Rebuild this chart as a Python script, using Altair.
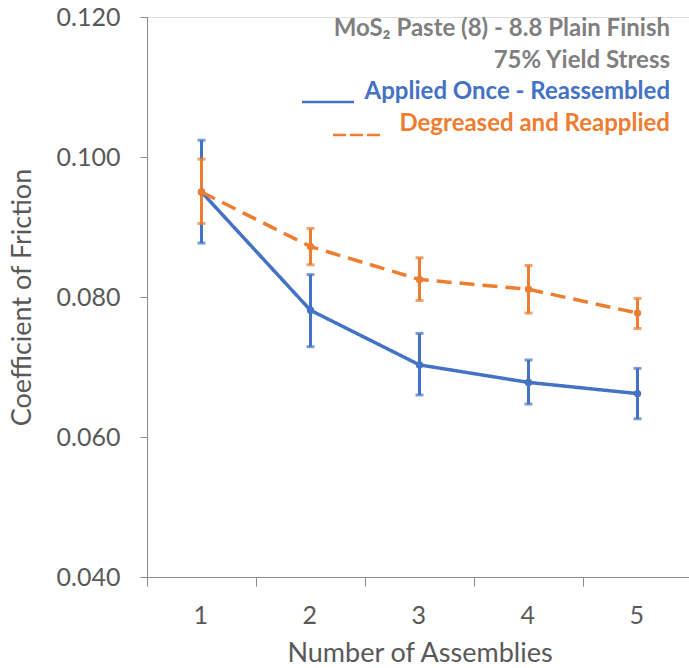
import altair as alt
import pandas as pd

assemblies = [1, 2, 3, 4, 5]
series_names = ["Applied Once - Reassembled", "Degreased and Reapplied"]
blue_mean = [0.0950, 0.0781, 0.0703, 0.0678, 0.0662]
blue_lo = [0.0877, 0.0729, 0.0660, 0.0647, 0.0626]
blue_hi = [0.1024, 0.0832, 0.0748, 0.0710, 0.0698]
orange_mean = [0.0950, 0.0872, 0.0825, 0.0811, 0.0777]
orange_lo = [0.0905, 0.0846, 0.0795, 0.0777, 0.0755]
orange_hi = [0.0997, 0.0898, 0.0856, 0.0845, 0.0798]

y_ticks = [0.04, 0.06, 0.08, 0.10, 0.12]
title_lines = ["MoS\u2082 Paste (8) - 8.8 Plain Finish", "75% Yield Stress"]

BLUE = "#4472C4"
ORANGE = "#ED7D31"
GRAY = "#7f7f7f"
AXIS_TXT = "#595959"
FONT = "Lato"

rows = []
for s, m, lo, hi in [(series_names[0], blue_mean, blue_lo, blue_hi),
                     (series_names[1], orange_mean, orange_lo, orange_hi)]:
    for a, mv, l, h in zip(assemblies, m, lo, hi):
        rows.append({"series": s, "n": a, "cof": mv, "lo": l, "hi": h})
df = pd.DataFrame(rows)

x_enc = alt.X("n:O", title="Number of Assemblies",
              scale=alt.Scale(paddingInner=0, paddingOuter=0),
              axis=alt.Axis(labelAngle=0, tickBand="extent", tickSize=9,
                            labelPadding=29, titlePadding=12, grid=False,
                            labelOffset=6,
                            labelFontSize=25, titleFontSize=27,
                            labelColor=AXIS_TXT, titleColor=AXIS_TXT,
                            domainColor="#8c8c8c", tickColor="#8c8c8c",
                            labelFont=FONT, titleFont=FONT, titleFontWeight="normal"))
y_scale = alt.Scale(domain=[0.04, 0.12], nice=False, zero=False)
y_enc = alt.Y("cof:Q", title="Coefficient of Friction", scale=y_scale,
              axis=alt.Axis(values=y_ticks, format=".3f", tickSize=7, labelPadding=20,
                            titlePadding=20, grid=False,
                            labelFontSize=25, titleFontSize=27,
                            labelColor=AXIS_TXT, titleColor=AXIS_TXT,
                            domainColor="#8c8c8c", tickColor="#8c8c8c",
                            labelFont=FONT, titleFont=FONT, titleFontWeight="normal"))
color_enc = alt.Color("series:N", scale=alt.Scale(domain=series_names, range=[BLUE, ORANGE]),
                      legend=None)
dash_enc = alt.StrokeDash("series:N", scale=alt.Scale(domain=series_names, range=[[1, 0], [15, 8]]),
                          legend=None)

base = alt.Chart(df)
lines = base.mark_line(strokeWidth=3.5).encode(x=x_enc, y=y_enc, color=color_enc, strokeDash=dash_enc)
points = base.mark_point(filled=True, size=55, opacity=1).encode(x="n:O", y="cof:Q", color=color_enc)
rules = base.mark_rule(strokeWidth=3).encode(x="n:O", y="lo:Q", y2="hi:Q", color=color_enc)
caps_hi = base.mark_tick(thickness=3, size=8, orient="horizontal").encode(x="n:O", y="hi:Q", color=color_enc)
caps_lo = base.mark_tick(thickness=3, size=8, orient="horizontal").encode(x="n:O", y="lo:Q", color=color_enc)

tdf = pd.DataFrame({"t": title_lines + series_names,
                    "c": [GRAY, GRAY, BLUE, ORANGE],
                    "yy": [19, 51, 82, 114]})
texts = alt.Chart(tdf).mark_text(align="right", baseline="alphabetic", fontSize=24,
                                 fontWeight="bold", font=FONT).encode(
    x=alt.value(523), y=alt.Y("yy:Q", scale=None),
    text="t:N", color=alt.Color("c:N", scale=None))

leg_blue = alt.Chart(pd.DataFrame({"series": [series_names[0]]})).mark_rule(
    strokeWidth=2.5, color=BLUE).encode(x=alt.value(155), x2=alt.value(207), y=alt.value(85))
leg_orange = alt.Chart(pd.DataFrame({"series": [series_names[1]]})).mark_rule(
    strokeWidth=2.5, color=ORANGE, strokeDash=[13, 4]).encode(
    x=alt.value(186), x2=alt.value(233), y=alt.value(118))

chart = alt.layer(rules, caps_hi, caps_lo, lines, points, leg_blue, leg_orange, texts).properties(
    width=545, height=560,
    autosize=alt.AutoSizeParams(type="none"),
    padding={"left": 147, "top": 17, "right": -3, "bottom": 91},
).configure_view(stroke=None).configure(background="white")

chart.save("out.html", embed_options={"renderer": "svg", "actions": False})
